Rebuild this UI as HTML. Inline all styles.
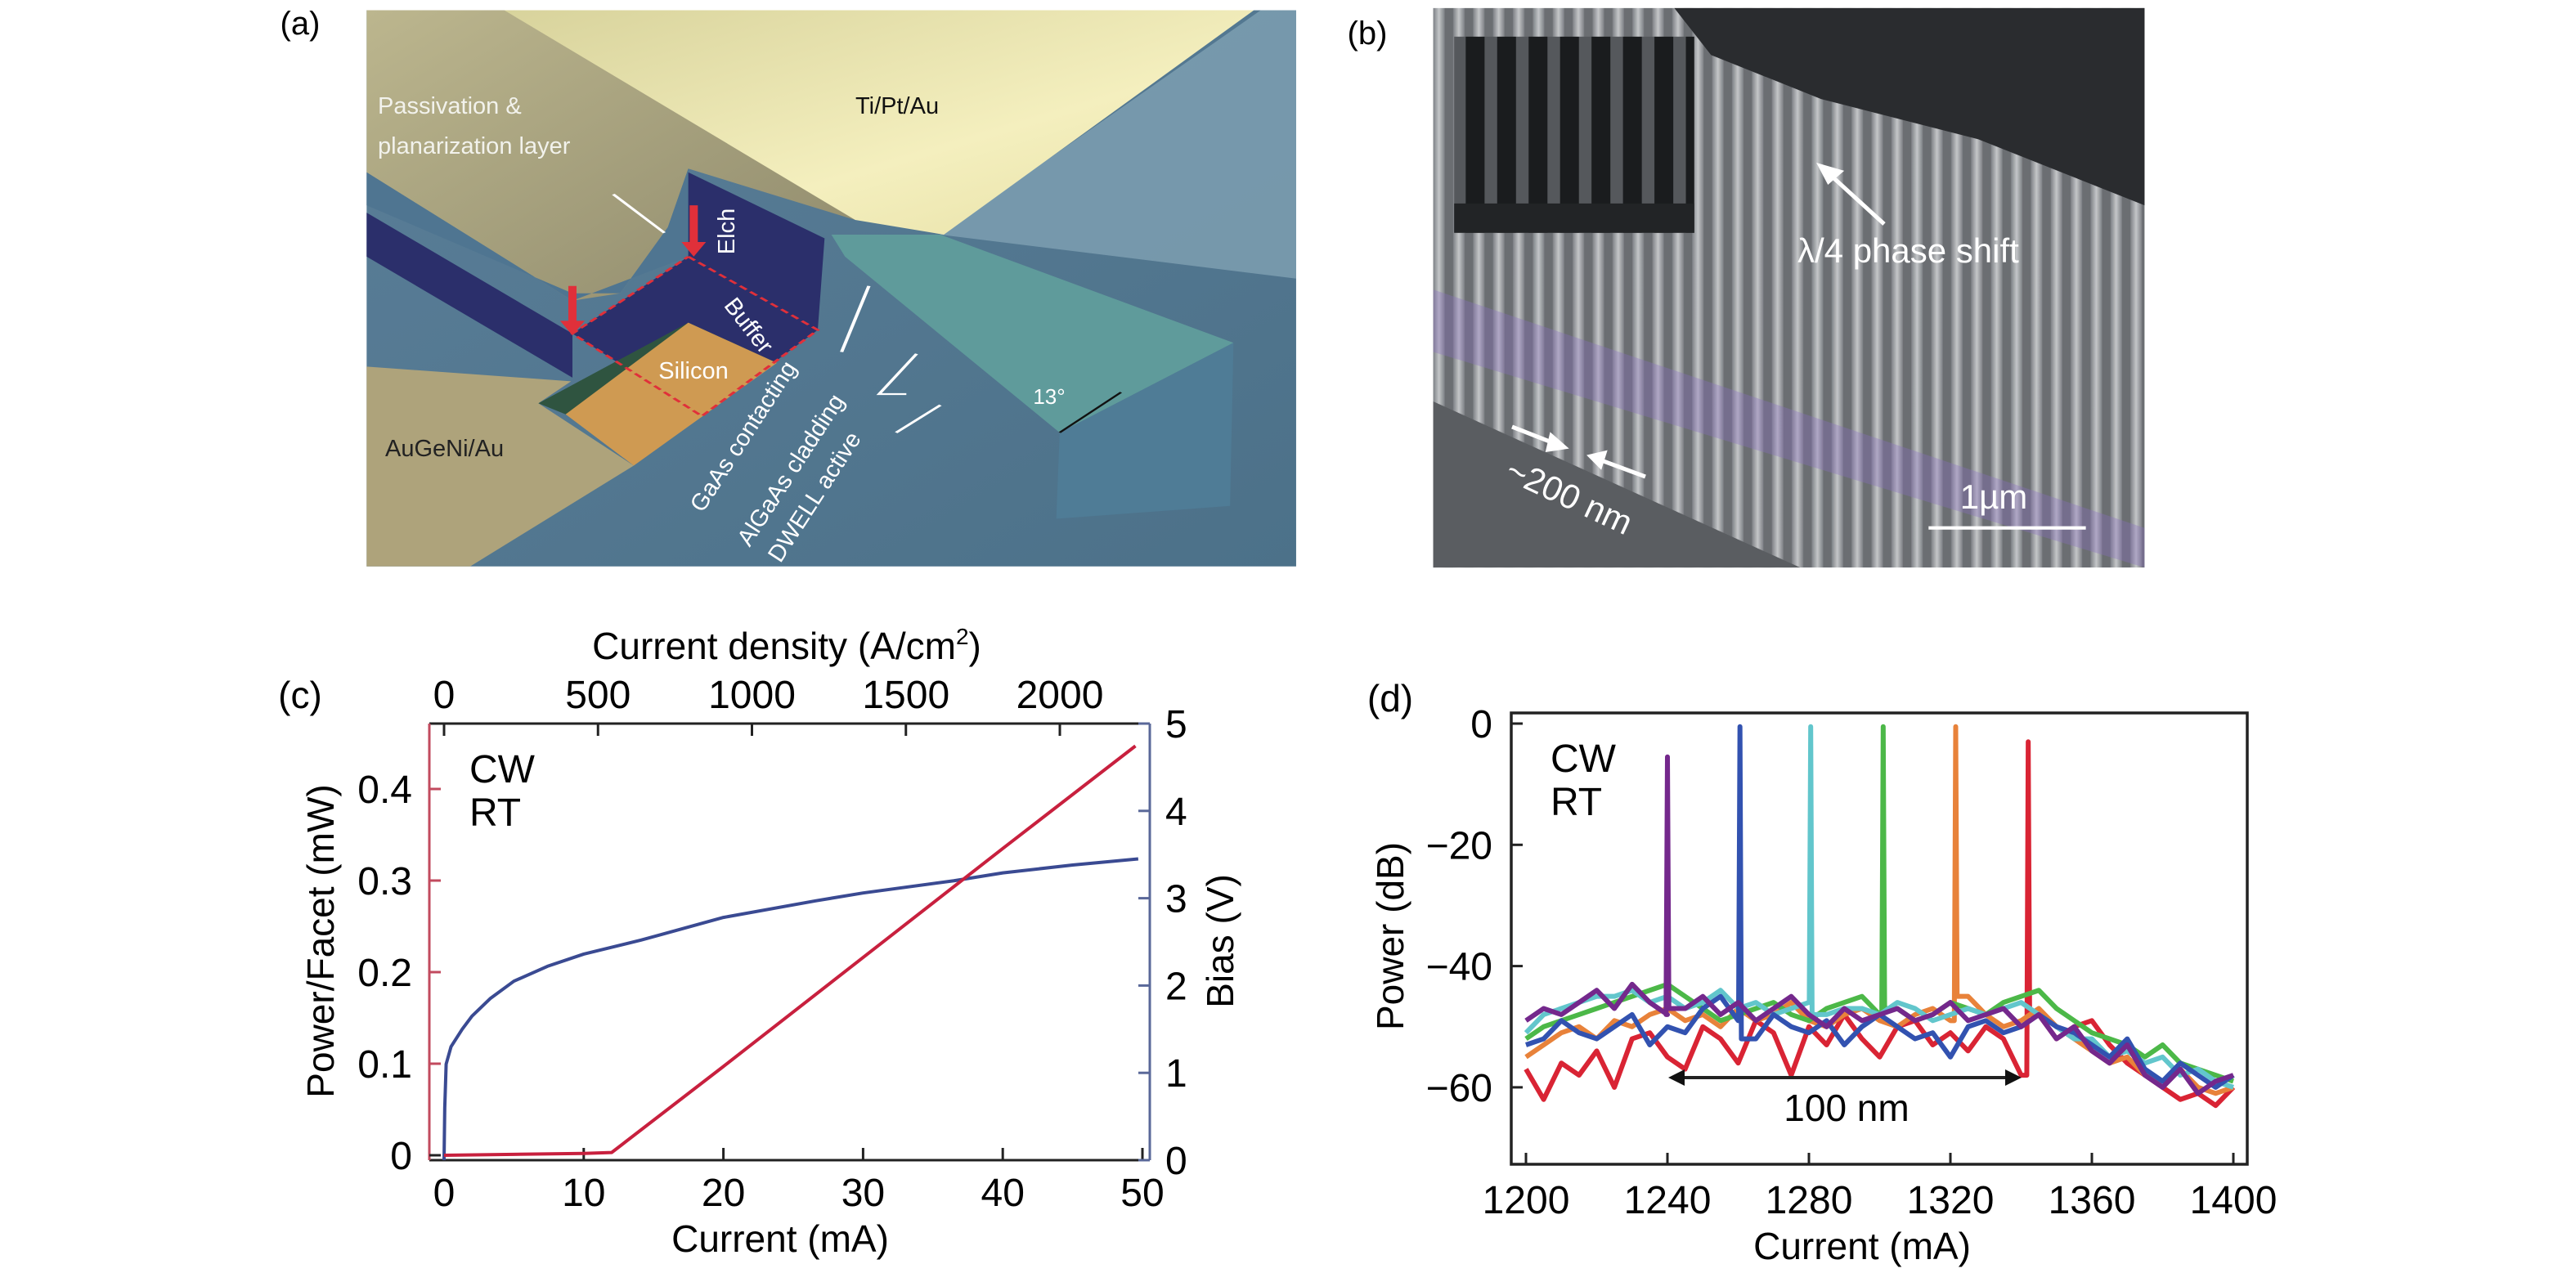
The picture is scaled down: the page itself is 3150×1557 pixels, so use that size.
<!DOCTYPE html>
<html><head><meta charset="utf-8"><style>
html,body{margin:0;padding:0;background:#fff;}
svg{display:block;font-family:"Liberation Sans",sans-serif;}
</style></head><body>
<svg id="fig" width="3150" height="1557" viewBox="0 0 3150 1557" xmlns="http://www.w3.org/2000/svg">
<defs>
<linearGradient id="gold" x1="0" y1="0" x2="1" y2="1"><stop offset="0" stop-color="#d8d39c"/><stop offset="0.6" stop-color="#f4efbe"/><stop offset="1" stop-color="#e6dfa4"/></linearGradient>
<linearGradient id="beige" x1="0" y1="0" x2="1" y2="1"><stop offset="0" stop-color="#bcb68e"/><stop offset="1" stop-color="#8f8a6c"/></linearGradient>
<linearGradient id="bluebg" x1="0" y1="0" x2="1" y2="1"><stop offset="0" stop-color="#5a7e98"/><stop offset="1" stop-color="#4c7189"/></linearGradient>
<linearGradient id="pill" x1="0" y1="0" x2="1" y2="0"><stop offset="0" stop-color="#7d8085"/><stop offset="0.5" stop-color="#c4c6c8"/><stop offset="1" stop-color="#7d8085"/></linearGradient>
<pattern id="stripes" patternUnits="userSpaceOnUse" width="38" height="10"><rect width="38" height="10" fill="#6b6e72"/><rect x="8" width="22" height="10" fill="url(#pill)"/></pattern>
<pattern id="inset" patternUnits="userSpaceOnUse" width="60" height="10"><rect width="60" height="10" fill="#1a1c1e"/><rect x="18" width="24" height="10" fill="#55585c"/></pattern>
</defs>

<!-- Panel (a) -->
<g>
<text x="367" y="42" font-size="40" text-anchor="middle">(a)</text>
<g transform="translate(350,0) scale(0.8333,0.4484)">
<rect x="118" y="28" width="1364" height="1517" fill="url(#bluebg)"/>
<polygon points="960,640 1430,28 1482,28 1482,760" fill="#86a6b8" opacity="0.7"/>
<polygon points="118,28 330,28 835,600 590,460 560,620 490,800 420,820 118,470" fill="url(#beige)"/>
<polygon points="320,28 1420,28 965,640 835,600" fill="url(#gold)"/>
<polygon points="118,470 420,820 590,700 590,460 560,620 490,800 420,800 118,560" fill="#4f7591"/>
<polygon points="118,580 420,910 420,1030 118,700" fill="#2b2f6b"/>
<polygon points="590,470 790,650 780,900 610,1135 420,910 590,700" fill="#2b2f6b"/>
<polygon points="370,1100 590,880 720,990 600,1130 410,1130" fill="#2f5440"/>
<polygon points="410,1130 590,880 720,990 510,1270" fill="#cf9a52"/>
<polygon points="118,1000 418,1040 370,1100 510,1270 270,1545 118,1545" fill="#aea37b"/>
<polygon points="800,640 960,640 1390,935 1135,1180 820,700" fill="#5f9b9b"/>
<polygon points="1135,1180 1390,935 1385,1380 1130,1415" fill="#4f7c96"/>
<polyline points="590,700 780,900 610,1135 420,910 590,700" fill="none" stroke="#e0303a" stroke-width="5" stroke-dasharray="14,8"/>
<line x1="598" y1="560" x2="598" y2="670" stroke="#e0303a" stroke-width="12"/>
<polygon points="580,660 616,660 598,700" fill="#e0303a"/>
<line x1="420" y1="780" x2="420" y2="880" stroke="#e0303a" stroke-width="12"/>
<polygon points="402,875 438,875 420,915" fill="#e0303a"/>
<g stroke="#ffffff" stroke-width="5" fill="none">
<line x1="480" y1="530" x2="555" y2="635"/>
<line x1="855" y1="780" x2="815" y2="960"/>
<polyline points="925,965 870,1075 910,1075"/>
<line x1="960" y1="1105" x2="895" y2="1180"/>
</g>
<line x1="1135" y1="1180" x2="1225" y2="1070" stroke="#111" stroke-width="4"/>
</g>
<g font-size="29">
<text x="462" y="139" fill="#f2f2ec">Passivation &amp;</text>
<text x="462" y="188" fill="#f2f2ec">planarization layer</text>
<text x="1046" y="139" fill="#111">Ti/Pt/Au</text>
<text transform="translate(898,283) rotate(-90)" text-anchor="middle" fill="#fff">Elch</text>
<text transform="translate(908,404) rotate(52)" text-anchor="middle" fill="#fff">Buffer</text>
<text x="848" y="463" text-anchor="middle" fill="#fff">Silicon</text>
<text x="471" y="558" fill="#222">AuGeNi/Au</text>
<text transform="translate(917,539) rotate(-57)" text-anchor="middle" fill="#fff">GaAs contacting</text>
<text transform="translate(975,580) rotate(-57)" text-anchor="middle" fill="#fff">AlGaAs cladding</text>
<text transform="translate(1004,613) rotate(-57)" text-anchor="middle" fill="#fff">DWELL active</text>
<text x="1283" y="494" text-anchor="middle" font-size="26" fill="#fff">13°</text>
</g>
</g>

<!-- Panel (b) -->
<g>
<text x="1672" y="54" font-size="40" text-anchor="middle">(b)</text>
<g transform="translate(1650,0) scale(0.641,0.4484)">
<rect x="160" y="22" width="1357" height="1526" fill="url(#stripes)"/>
<polygon points="160,790 1517,1440 1517,1548 160,960" fill="#8a6fc0" opacity="0.35"/>
<polygon points="620,22 1517,22 1517,560 1200,380 900,270 690,150" fill="#2a2c2f"/>
<polygon points="160,1095 860,1548 160,1548" fill="#5a5d61"/>
<rect x="200" y="100" width="458" height="535" fill="url(#inset)"/>
<rect x="200" y="555" width="458" height="80" fill="#222426"/>
<line x1="1105" y1="1440" x2="1405" y2="1440" stroke="#fff" stroke-width="9"/>
</g>
<g stroke="#fff" stroke-width="5" fill="#fff">
<line x1="2304" y1="274" x2="2236" y2="212"/><polygon points="2226,203 2250,210 2236,222" />
<line x1="1849" y1="522" x2="1900" y2="542"/><polygon points="1913,547 1897,533 1893,550"/>
<line x1="2012" y1="583" x2="1958" y2="563"/><polygon points="1945,558 1962,554 1957,570"/>
</g>
<g font-size="42" fill="#fff">
<text x="2198" y="321">λ/4 phase shift</text>
<text transform="translate(1913,620) rotate(25)" text-anchor="middle">~200 nm</text>
<text x="2438" y="622" text-anchor="middle">1µm</text>
</g>
</g>

<!-- Panel (c) -->
<g id="panelC"></g>
<!-- Panel (d) -->
<g id="panelD"></g>
</svg>

<script>
// ---- Panel (c) data ----
const powerCurrent = [0, 5, 10, 12, 20, 30, 40, 49.5];
const powerValues = [0, 0.001, 0.002, 0.003, 0.097, 0.216, 0.335, 0.447];
const biasCurrent = [0, 0.05, 0.15, 0.5, 1.3, 2, 3.3, 5, 7.4, 10, 14.1, 20, 26.6, 30, 36.5, 40, 45, 49.7];
const biasValues = [0, 0.6, 1.1, 1.3, 1.5, 1.65, 1.85, 2.05, 2.22, 2.36, 2.52, 2.78, 2.97, 3.06, 3.2, 3.29, 3.38, 3.45];
const currentTicks = [0, 10, 20, 30, 40, 50];
const densityTicks = [0, 500, 1000, 1500, 2000];
const powerTicks = [0, 0.1, 0.2, 0.3, 0.4];
const powerTickLabels = ["0", "0.1", "0.2", "0.3", "0.4"];
const biasTicks = [0, 1, 2, 3, 4, 5];

// ---- Panel (d) data ----
const wavelengths = [1200,1205,1210,1215,1220,1225,1230,1235,1240,1245,1250,1255,1260,1265,1270,1275,1280,1285,1290,1295,1300,1305,1310,1315,1320,1325,1330,1335,1340,1345,1350,1355,1360,1365,1370,1375,1380,1385,1390,1395,1400];
const redDb =    [-57,-62,-56,-58,-54,-60,-52,-51,-55,-57,-50,-52,-56,-49,-51,-58,-50,-53,-48,-52,-55,-50,-49,-53,-51,-54,-50,-52,-58,-48,-52,-50,-49,-53,-56,-58,-60,-62,-61,-63,-60];
const orangeDb = [-55,-53,-51,-50,-52,-49,-50,-48,-47,-49,-48,-50,-47,-49,-48,-46,-49,-50,-48,-47,-49,-50,-48,-47,-49,-45,-48,-50,-49,-47,-50,-52,-54,-56,-55,-58,-59,-57,-60,-61,-60];
const greenDb =  [-52,-50,-49,-48,-47,-46,-45,-44,-43,-45,-47,-49,-48,-47,-46,-48,-49,-47,-46,-45,-48,-47,-49,-48,-46,-47,-48,-46,-45,-44,-47,-49,-51,-52,-53,-55,-53,-56,-57,-58,-59];
const cyanDb =   [-51,-48,-47,-46,-45,-45,-44,-46,-45,-47,-46,-44,-47,-46,-48,-47,-46,-48,-47,-47,-48,-46,-47,-49,-48,-47,-48,-47,-46,-48,-50,-52,-52,-55,-54,-56,-55,-58,-57,-59,-60];
const blueDb =   [-53,-52,-49,-51,-52,-50,-48,-53,-50,-51,-47,-45,-49,-52,-48,-50,-51,-49,-53,-50,-48,-50,-52,-51,-55,-50,-49,-51,-50,-48,-50,-51,-53,-55,-52,-57,-59,-56,-58,-60,-58];
const purpleDb = [-49,-47,-48,-46,-44,-47,-43,-46,-48,-47,-45,-48,-46,-49,-47,-45,-48,-50,-47,-49,-48,-47,-49,-48,-46,-49,-48,-47,-50,-48,-52,-50,-54,-56,-53,-58,-60,-57,-61,-59,-58];
const peakWl = [1342, 1321.5, 1301, 1280.5, 1260.5, 1240];
const peakDb = [-3, -0.5, -0.5, -0.5, -0.5, -5.5];
const seriesNames = ["red", "orange", "green", "cyan", "blue", "purple"];
const wlTicks = [1200, 1240, 1280, 1320, 1360, 1400];
const dbTicks = [0, -20, -40, -60];
const dbTickLabels = ["0", "\u221220", "\u221240", "\u221260"];

const NS = "http://www.w3.org/2000/svg";
function mk(parent, tag, attrs, text) {
  const e = document.createElementNS(NS, tag);
  for (const k in attrs) e.setAttribute(k, attrs[k]);
  if (text !== undefined) e.textContent = text;
  parent.appendChild(e);
  return e;
}

// ---------- Panel (c) ----------
(function () {
  const g = document.getElementById("panelC");
  const L = 525, R = 1406, T = 885, B = 1419;
  const xC = i => 543 + i * 17.08;
  const xJ = j => 543 + j * 0.3765;
  const yP = p => 1413 - p * 1120;
  const yV = v => 1419 - v * 106.8;
  let e;
  e = mk(g, "text", {x: 367, y: 866, "font-size": 46, "text-anchor": "middle"}, "(c)");
  
  
  e = mk(g, "line", {x1: L, y1: T, x2: R, y2: T, stroke: "#222", "stroke-width": 3});
  
  
  e = mk(g, "line", {x1: L, y1: B, x2: R, y2: B, stroke: "#222", "stroke-width": 3});
  
  
  e = mk(g, "line", {x1: L, y1: T, x2: L, y2: B, stroke: "#c24a5e", "stroke-width": 3});
  
  
  e = mk(g, "line", {x1: R, y1: T, x2: R, y2: B, stroke: "#5a6899", "stroke-width": 3});
  
  
  currentTicks.forEach(v => {
    const x = xC(v);
    e = mk(g, "line", {x1: x, y1: B, x2: x, y2: B - 15, stroke: "#222", "stroke-width": 3});
    
    
    e = mk(g, "text", {x: x, y: 1475, "font-size": 48, "text-anchor": "middle"}, String(v));
    
    
  });
  densityTicks.forEach(v => {
    const x = xJ(v);
    e = mk(g, "line", {x1: x, y1: T, x2: x, y2: T + 15, stroke: "#222", "stroke-width": 3});
    
    
    e = mk(g, "text", {x: x, y: 866, "font-size": 48, "text-anchor": "middle"}, String(v));
    
    
  });
  powerTicks.forEach((v, i) => {
    const y = yP(v);
    e = mk(g, "line", {x1: L, y1: y, x2: L + 14, y2: y, stroke: i === 0 ? "#222" : "#c24a5e", "stroke-width": 3});
    
    
    e = mk(g, "text", {x: 504, y: y + 17, "font-size": 48, "text-anchor": "end"}, powerTickLabels[i]);
    
    
  });
  biasTicks.forEach(v => {
    const y = yV(v);
    e = mk(g, "line", {x1: R, y1: y, x2: R - 14, y2: y, stroke: "#5a6899", "stroke-width": 3});
    
    
    e = mk(g, "text", {x: 1425, y: y + 17, "font-size": 48}, String(v));
    
    
  });
  e = mk(g, "text", {x: 962, y: 806, "font-size": 46, "text-anchor": "middle"});
  e.innerHTML = 'Current density (A/cm<tspan font-size="28" dy="-18">2</tspan><tspan dy="18">)</tspan>';
  
  
  e = mk(g, "text", {x: 954, y: 1531, "font-size": 46, "text-anchor": "middle"}, "Current (mA)");
  
  
  e = mk(g, "text", {transform: "translate(408,1151) rotate(-90)", "font-size": 46, "text-anchor": "middle"}, "Power/Facet (mW)");
  
  
  e = mk(g, "text", {transform: "translate(1508,1151) rotate(-90)", "font-size": 46, "text-anchor": "middle"}, "Bias (V)");
  
  
  e = mk(g, "text", {x: 574, y: 957, "font-size": 48}, "CW");
  
  
  e = mk(g, "text", {x: 574, y: 1010, "font-size": 48}, "RT");
  
  
  e = mk(g, "polyline", {points: biasCurrent.map((c, i) => xC(c) + "," + yV(biasValues[i])).join(" "), fill: "none", stroke: "#3a4a92", "stroke-width": 4, "stroke-linejoin": "round"});
  
  
  e = mk(g, "polyline", {points: powerCurrent.map((c, i) => xC(c) + "," + yP(powerValues[i])).join(" "), fill: "none", stroke: "#c8203e", "stroke-width": 4, "stroke-linejoin": "round"});
  
  
})();

// ---------- Panel (d) ----------
(function () {
  const g = document.getElementById("panelD");
  const L = 1848, R = 2748, T = 872, B = 1424;
  const xW = w => 1866 + (w - 1200) * 4.325;
  const yD = d => 885 - d * 7.415;
  const colors = {red: "#d92434", orange: "#e8823a", green: "#4cb848", cyan: "#62c6cc", blue: "#3252b0", purple: "#74288c"};
  const data = {red: redDb, orange: orangeDb, green: greenDb, cyan: cyanDb, blue: blueDb, purple: purpleDb};
  let e;
  seriesNames.forEach((name, si) => {
    const vals = data[name];
    const pts = [];
    const pw = peakWl[si];
    let inserted = false;
    wavelengths.forEach((w, i) => {
      if (!inserted && w > pw) {
        const prev = vals[i - 1];
        pts.push(xW(pw - 0.4) + "," + yD(prev));
        pts.push(xW(pw) + "," + yD(peakDb[si]));
        pts.push(xW(pw + 0.4) + "," + yD(vals[i]));
        inserted = true;
      }
      pts.push(xW(w) + "," + yD(vals[i]));
    });
    e = mk(g, "polyline", {points: pts.join(" "), fill: "none", stroke: colors[name], "stroke-width": 6, "stroke-linejoin": "round"});
    
    
  });
  e = mk(g, "rect", {x: L, y: T, width: R - L, height: B - T, fill: "none", stroke: "#222", "stroke-width": 3.5});
  
  
  wlTicks.forEach(v => {
    const x = xW(v);
    e = mk(g, "line", {x1: x, y1: B, x2: x, y2: B - 14, stroke: "#222", "stroke-width": 3});
    
    
    e = mk(g, "text", {x: x, y: 1484, "font-size": 48, "text-anchor": "middle"}, String(v));
    
    
  });
  dbTicks.forEach((v, i) => {
    const y = yD(v);
    e = mk(g, "line", {x1: L, y1: y, x2: L + 14, y2: y, stroke: "#222", "stroke-width": 3});
    
    
    e = mk(g, "text", {x: 1825, y: y + 17, "font-size": 48, "text-anchor": "end"}, dbTickLabels[i]);
    
    
  });
  e = mk(g, "text", {x: 1700, y: 870, "font-size": 46, "text-anchor": "middle"}, "(d)");
  
  
  e = mk(g, "text", {transform: "translate(1716,1145) rotate(-90)", "font-size": 46, "text-anchor": "middle"}, "Power (dB)");
  
  
  e = mk(g, "text", {x: 2277, y: 1540, "font-size": 46, "text-anchor": "middle"}, "Current (mA)");
  
  
  e = mk(g, "text", {x: 1896, y: 944, "font-size": 48}, "CW");
  
  
  e = mk(g, "text", {x: 1896, y: 997, "font-size": 48}, "RT");
  
  
  e = mk(g, "line", {x1: 2055, y1: 1318, x2: 2457, y2: 1318, stroke: "#222", "stroke-width": 4});
  
  
  e = mk(g, "polygon", {points: "2040,1318 2060,1308 2060,1328", fill: "#111"});
  
  
  e = mk(g, "polygon", {points: "2472,1318 2452,1308 2452,1328", fill: "#111"});
  
  
  e = mk(g, "text", {x: 2258, y: 1371, "font-size": 46, "text-anchor": "middle"}, "100 nm");
  
  
})();
</script>
</body></html>
